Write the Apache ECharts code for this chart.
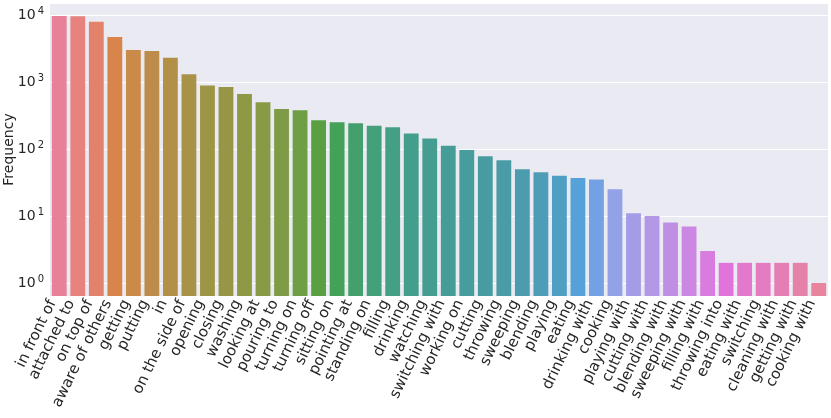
<!DOCTYPE html>
<html>
<head>
<meta charset="utf-8">
<script src="https://cdn.jsdelivr.net/npm/echarts@6/dist/echarts.min.js"></script>
<style>
  html, body { margin: 0; padding: 0; background: #fff; }
  #chart { width: 831px; height: 418px; }
</style>
</head>
<body>
<div id="chart"></div>
<script>
// relation categories, sorted by count
const categories = [
  'in front of', 'attached to', 'on top of', 'aware of others', 'getting', 'putting', 'in',
  'on the side of', 'opening', 'closing', 'washing', 'looking at', 'pouring to', 'turning on',
  'turning off', 'sitting on', 'pointing at', 'standing on', 'filling', 'drinking', 'watching',
  'switching with', 'working on', 'cutting', 'throwing', 'sweeping', 'blending', 'playing',
  'eating', 'drinking with', 'cooking', 'playing with', 'cutting with', 'blending with',
  'sweeping with', 'filling with', 'throwing into', 'eating with', 'switching', 'cleaning with',
  'getting with', 'cooking with'
];

const frequency = [
  9700, 9600, 7900, 4700, 3000, 2900, 2300,
  1310, 890, 840, 660, 500, 395, 380,
  268, 250, 242, 223, 211, 171, 144,
  112, 97, 78, 68, 50, 45, 40,
  37, 35, 25, 11, 10, 8, 7,
  3, 2, 2, 2, 2, 2, 1
];

// y axis limits (log scale)
const yMin = 0.64;
const yMax = 15100;

// husl-like palette, desaturated like seaborn bars
const palette = [
  '#E7819A', '#E6837F', '#E3826A', '#D9844A', '#C98A4A', '#BE8C4A', '#B29048',
  '#A89248', '#9E9446', '#979646', '#8E9845', '#879A45', '#7D9C45', '#6F9E45',
  '#5AA043', '#45A058', '#43A06D', '#44A07B', '#449F84', '#449E8C', '#459D92',
  '#469D97', '#479C9C', '#489CA1', '#499CA6', '#4B9CAD', '#4E9DB6', '#4F9FC5',
  '#56A2D8', '#74A1E3', '#93A1E6', '#A39CE6', '#B298E6', '#C08FE3', '#CC87E2',
  '#D97CE0', '#E174DA', '#E378CC', '#E57BC0', '#E67EB6', '#E681A9', '#E8849D'
];

const chart = echarts.init(document.getElementById('chart'), null, { renderer: 'canvas' });

// bars drawn from the bottom of the axis (log axis bars would start at 1)
function renderBar(params, api) {
  const idx = api.value(0);
  const top = api.coord([idx, api.value(1)]);
  const bottom = api.coord([idx, yMin]);
  const w = api.size([1, 0])[0] * 0.8;
  return {
    type: 'rect',
    shape: { x: top[0] - w / 2, y: top[1], width: w, height: bottom[1] - top[1] },
    style: { fill: palette[params.dataIndex] }
  };
}

chart.setOption({
  animation: false,
  textStyle: { fontFamily: 'DejaVu Sans' },
  grid: {
    left: 50, right: 3, top: 3, bottom: 122,
    outerBoundsMode: 'none',
    containLabel: false,
    show: true, backgroundColor: '#EAEAF2', borderWidth: 0
  },
  xAxis: {
    type: 'category',
    data: categories,
    axisLine: { show: false },
    axisTick: { show: false },
    splitLine: { show: false },
    axisLabel: {
      interval: 0, rotate: 64, margin: 8,
      verticalAlign: 'bottom',
      fontSize: 15, color: '#262626', fontFamily: 'DejaVu Sans'
    }
  },
  yAxis: {
    type: 'log',
    logBase: 10,
    min: yMin,
    max: yMax,
    name: 'Frequency',
    nameLocation: 'middle',
    nameGap: 34,
    nameMoveOverlap: false,
    nameTextStyle: { fontSize: 14, color: '#262626', fontFamily: 'DejaVu Sans' },
    axisLine: { show: false },
    axisTick: { show: false },
    splitLine: { lineStyle: { color: '#ffffff', width: 1 } },
    axisLabel: {
      showMinLabel: false,
      showMaxLabel: false,
      margin: 6,
      formatter: function (v) {
        const e = Math.round(Math.log10(v));
        return '{a|10}{b|' + e + '}';
      },
      rich: {
        a: { fontSize: 14, color: '#262626', fontFamily: 'DejaVu Sans' },
        b: { fontSize: 10, color: '#262626', fontFamily: 'DejaVu Sans', padding: [0, 0, 8, 2] }
      }
    }
  },
  series: [{
    type: 'custom',
    renderItem: renderBar,
    encode: { x: 0, y: 1 },
    data: frequency.map((v, i) => [i, v])
  }]
});
</script>
</body>
</html>
